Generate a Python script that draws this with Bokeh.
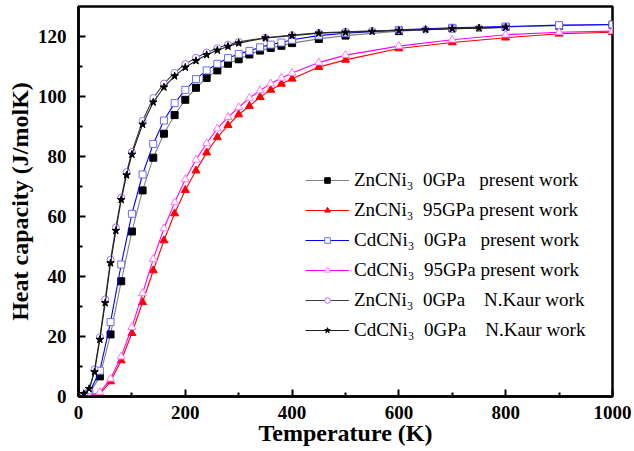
from bokeh.plotting import figure
from bokeh.models import Range1d, FixedTicker, Legend, LegendItem
from bokeh.embed import file_html
from bokeh.resources import INLINE

# ---- data ----
T_present = [0, 20, 40, 60, 80, 100, 120, 140, 160, 180, 200, 220, 240, 260, 280,
             300, 320, 340, 360, 380, 400, 450, 500, 600, 700, 800, 900, 1000]
zn_0_present = [0, 0.8, 6.7, 20.7, 38.4, 55.0, 68.7, 79.6, 87.6, 93.8, 98.9, 102.9, 106.2,
                108.7, 110.9, 112.4, 114.0, 115.3, 116.2, 116.9, 117.8, 119.2, 120.3,
                121.8, 122.7, 123.2, 123.6, 123.9]
zn_95_present = [0, 0.1, 0.8, 5.0, 12.0, 21.1, 31.4, 42.0, 52.0, 61.0, 68.8, 75.3, 81.3,
                 86.4, 90.4, 94.0, 96.8, 99.8, 102.2, 104.2, 105.9, 109.8, 112.2, 116.0,
                 118.0, 119.6, 120.9, 121.4]
cd_0_present = [0, 1.2, 8.6, 24.8, 44.0, 60.9, 74.0, 84.2, 92.0, 97.8, 102.2, 105.8, 108.7,
                110.9, 112.8, 114.2, 115.2, 116.4, 117.3, 118.0, 118.9, 120.3, 121.1,
                122.2, 122.9, 123.3, 123.8, 124.0]
cd_95_present = [0, 0.3, 1.4, 5.9, 13.3, 23.1, 34.4, 45.8, 56.0, 64.7, 72.4, 78.9, 84.4,
                 89.3, 93.1, 96.4, 99.5, 102.0, 104.3, 106.2, 107.8, 111.3, 113.8, 116.8,
                 118.9, 120.6, 121.4, 121.8]

T_kaur = [10, 20, 30, 40, 50, 60, 70, 80, 90, 100, 120, 140, 160, 180, 200, 220, 240,
          260, 280, 300, 350, 400, 450, 500, 550, 600, 650, 700, 750, 800]
zn_0_kaur = [0.5, 2.0, 9.0, 19.8, 32.4, 45.6, 56.4, 66.3, 74.8, 81.5, 91.9, 99.5, 104.3,
             107.9, 110.8, 112.9, 114.7, 116.1, 117.3, 118.2, 119.6, 120.5, 121.2, 121.6,
             121.9, 122.1, 122.3, 122.6, 122.8, 123.0]
cd_0_kaur = [0.9, 2.6, 8.2, 19.0, 31.2, 44.5, 55.3, 65.6, 73.8, 80.7, 90.7, 98.1, 103.1,
             106.8, 109.7, 111.9, 113.9, 115.4, 116.7, 117.8, 119.5, 120.3, 121.1, 121.4,
             121.7, 122.0, 122.3, 122.6, 122.8, 123.1]

x_ticks = [0, 200, 400, 600, 800, 1000]
x_minor = [100, 300, 500, 700, 900]
y_ticks = [0, 20, 40, 60, 80, 100, 120]
y_minor = [10, 30, 50, 70, 90, 110]

labels = [
    "ZnCNi\u2083\u00a0\u00a00GPa\u00a0\u00a0\u00a0present work",
    "ZnCNi\u2083\u00a0\u00a095GPa present work",
    "CdCNi\u2083\u00a0\u00a00GPa\u00a0\u00a0\u00a0present work",
    "CdCNi\u2083\u00a0\u00a095GPa present work",
    "ZnCNi\u2083\u00a0\u00a00GPa\u00a0\u00a0\u00a0\u00a0N.Kaur work",
    "CdCNi\u2083\u00a0\u00a00GPa\u00a0\u00a0\u00a0\u00a0N.Kaur work",
]

FONT = "Liberation Serif"

p = figure(width=634, height=451, output_backend="svg", toolbar_location=None,
           x_range=Range1d(0, 1000), y_range=Range1d(0, 130),
           min_border_left=78, min_border_right=22, min_border_top=6,
           min_border_bottom=55)

p.xgrid.visible = False
p.ygrid.visible = False
p.outline_line_color = "black"
p.outline_line_width = 2.5
p.background_fill_color = "white"
p.border_fill_color = "white"

series = [
    (T_present, zn_0_present, "#808080", "square", "black", "black", 7),
    (T_present, zn_95_present, "#ff0000", "triangle", "#ff0000", "#ff0000", 8),
    (T_present, cd_0_present, "#0000ff", "square", "#6b6bff", "white", 7),
    (T_present, cd_95_present, "#ff00ff", "triangle", "#ff77ff", "white", 8),
    (T_kaur, zn_0_kaur, "#404040", "circle", "#a070ff", "white", 7),
    (T_kaur, cd_0_kaur, "#202020", "star", "black", "black", 8),
]

items = []
for (xs, ys, lc, mk, mc, fc, sz), lab in zip(series, labels):
    r1 = p.line(xs, ys, line_color=lc, line_width=1.1)
    r2 = p.scatter(xs, ys, marker=mk, size=sz, line_color=mc, fill_color=fc,
                   line_width=1)
    items.append(LegendItem(label=lab, renderers=[r1, r2]))

legend = Legend(items=items, location=(227, 51), orientation="vertical",
                glyph_width=44, glyph_height=14, label_height=30,
                label_standoff=5, spacing=0, padding=0, margin=0,
                border_line_color=None, background_fill_alpha=0,
                label_text_font=FONT, label_text_font_size="19px",
                label_text_color="black")
p.add_layout(legend, "center")

for ax in (p.xaxis[0], p.yaxis[0]):
    ax.axis_line_width = 2.5
    ax.axis_line_color = "black"
    ax.major_tick_in = 7
    ax.major_tick_out = 0
    ax.minor_tick_in = 4
    ax.minor_tick_out = 0
    ax.major_tick_line_width = 2
    ax.minor_tick_line_width = 2
    ax.major_label_text_font = FONT
    ax.major_label_text_font_style = "bold"
    ax.major_label_text_font_size = "19px"
    ax.major_label_text_color = "black"
    ax.axis_label_text_font = FONT
    ax.axis_label_text_font_style = "bold"
    ax.axis_label_text_font_size = "24px"
    ax.axis_label_text_color = "black"

p.xaxis[0].ticker = FixedTicker(ticks=x_ticks, minor_ticks=x_minor)
p.yaxis[0].ticker = FixedTicker(ticks=y_ticks, minor_ticks=y_minor)
p.xaxis[0].axis_label = "Temperature (K)"
p.yaxis[0].axis_label = "Heat capacity (J/molK)"
p.xaxis[0].major_label_standoff = 9
p.xaxis[0].axis_label_standoff = -2
p.yaxis[0].major_label_standoff = 12
p.yaxis[0].axis_label_standoff = 2

open("out.html", "w").write(file_html(p, INLINE))
